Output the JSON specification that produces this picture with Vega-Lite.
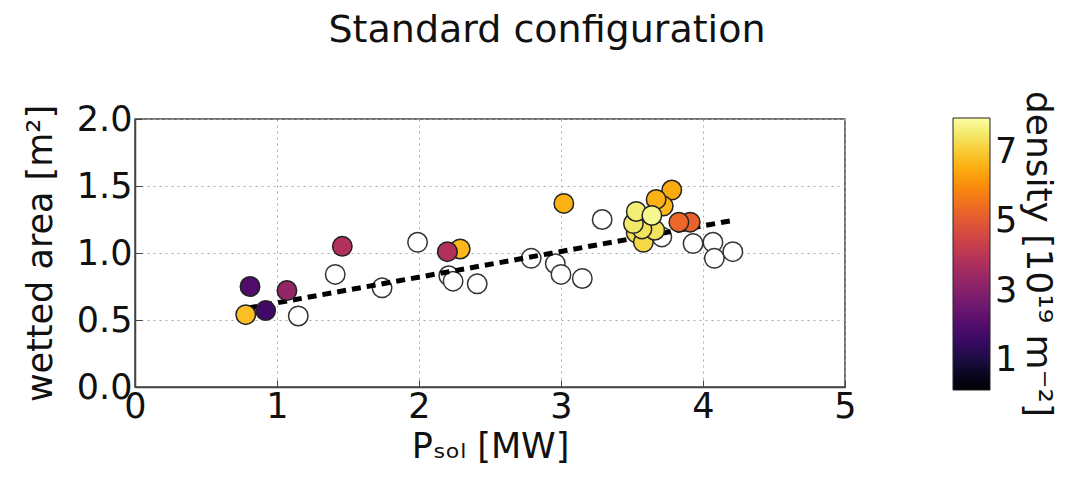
{
  "$schema": "https://vega.github.io/schema/vega-lite/v6.json",
  "autosize": "none",
  "width": 710,
  "height": 268,
  "padding": {"left": 135, "top": 119, "right": 221, "bottom": 97},
  "background": "white",
  "title": {"text": "Standard configuration", "font": "DejaVu Sans", "fontSize": 38, "fontWeight": "normal", "color": "#111", "anchor": "middle", "dx": 57, "offset": 52},
  "datasets": {
    "open": [
      {"p": 1.15, "area": 0.53}, {"p": 1.41, "area": 0.84}, {"p": 1.74, "area": 0.74},
      {"p": 1.99, "area": 1.08}, {"p": 2.21, "area": 0.83}, {"p": 2.24, "area": 0.79},
      {"p": 2.41, "area": 0.77}, {"p": 2.79, "area": 0.96}, {"p": 2.96, "area": 0.92},
      {"p": 3.0, "area": 0.84}, {"p": 3.15, "area": 0.81}, {"p": 3.29, "area": 1.25},
      {"p": 3.71, "area": 1.12}, {"p": 3.93, "area": 1.07}, {"p": 4.07, "area": 1.08},
      {"p": 4.08, "area": 0.96}, {"p": 4.21, "area": 1.01}
    ],
    "shots": [
      {"p": 0.81, "area": 0.75, "density": 2.0},
      {"p": 0.92, "area": 0.57, "density": 1.7},
      {"p": 0.78, "area": 0.54, "density": 6.8},
      {"p": 1.07, "area": 0.72, "density": 3.3},
      {"p": 1.46, "area": 1.05, "density": 3.85},
      {"p": 2.29, "area": 1.03, "density": 6.7},
      {"p": 2.2, "area": 1.01, "density": 3.85},
      {"p": 3.02, "area": 1.37, "density": 6.6},
      {"p": 3.78, "area": 1.47, "density": 6.5},
      {"p": 3.72, "area": 1.35, "density": 6.7},
      {"p": 3.67, "area": 1.4, "density": 6.6},
      {"p": 3.91, "area": 1.23, "density": 5.2},
      {"p": 3.83, "area": 1.23, "density": 5.3},
      {"p": 3.53, "area": 1.15, "density": 7.3},
      {"p": 3.58, "area": 1.08, "density": 7.2},
      {"p": 3.66, "area": 1.17, "density": 7.4},
      {"p": 3.57, "area": 1.18, "density": 7.4},
      {"p": 3.51, "area": 1.22, "density": 7.5},
      {"p": 3.53, "area": 1.31, "density": 7.6},
      {"p": 3.64, "area": 1.28, "density": 7.8}
    ],
    "fit": [
      {"p": 0.8, "area": 0.59},
      {"p": 4.22, "area": 1.245}
    ]
  },
  "encoding": {
    "x": {"field": "p", "type": "quantitative", "scale": {"domain": [0, 5], "nice": false, "zero": false},
      "axis": {"title": "Pₛₒₗ [MW]", "values": [0, 1, 2, 3, 4, 5], "format": "d"}},
    "y": {"field": "area", "type": "quantitative", "scale": {"domain": [0, 2], "nice": false, "zero": false},
      "axis": {"title": "wetted area [m²]", "values": [0, 0.5, 1, 1.5, 2], "format": ".1f"}}
  },
  "layer": [
    {
      "data": {"name": "open"},
      "mark": {"type": "circle", "size": 380, "fill": "white", "stroke": "#333", "strokeWidth": 1.5, "opacity": 1}
    },
    {
      "data": {"name": "fit"},
      "mark": {"type": "line", "color": "black", "strokeWidth": 5, "strokeDash": [9, 6]}
    },
    {
      "data": {"name": "shots"},
      "mark": {"type": "circle", "size": 380, "stroke": "#222", "strokeWidth": 1.5, "opacity": 1},
      "encoding": {
        "color": {"field": "density", "type": "quantitative",
          "scale": {"scheme": "inferno", "domain": [0.15, 7.97], "nice": false, "zero": false},
          "legend": {"title": "density [10¹⁹ m⁻²]", "type": "gradient", "direction": "vertical",
            "orient": "none", "legendX": 818, "legendY": -1,
            "gradientLength": 272, "gradientThickness": 37, "gradientStrokeColor": "#222", "gradientStrokeWidth": 1,
            "values": [1, 3, 5, 7], "labelFont": "DejaVu Sans", "labelFontSize": 35, "labelColor": "#111", "labelOffset": 5,
            "titleOrient": "right", "titleFont": "DejaVu Sans", "titleFontSize": 36, "titleFontWeight": "normal", "titleColor": "#111",
            "titleAnchor": "middle", "titlePadding": 2, "titleLimit": 500}
        }
      }
    }
  ],
  "config": {
    "view": {"stroke": "#444", "strokeWidth": 1.5},
    "axis": {
      "labelFont": "DejaVu Sans", "labelFontSize": 35, "labelColor": "#111", "labelFlush": false, "labelOverlap": false,
      "titleFont": "DejaVu Sans", "titleFontSize": 35, "titleFontWeight": "normal", "titleColor": "#111",
      "domainColor": "#444", "domainWidth": 1.5, "tickColor": "#444", "tickSize": -7,
      "grid": true, "gridColor": "#aaa", "gridDash": [2, 4], "gridWidth": 1
    },
    "axisX": {"labelPadding": 9, "titlePadding": 5},
    "axisY": {"labelPadding": 10, "titlePadding": 18}
  }
}
